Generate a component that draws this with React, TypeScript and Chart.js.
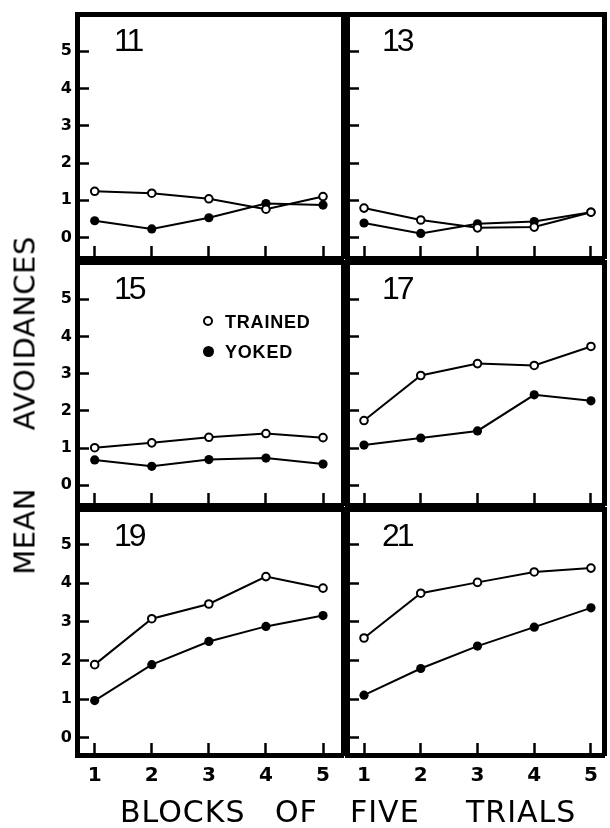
import React, { useEffect, useRef } from "react";
import { Chart, registerables } from "chart.js";

Chart.register(...registerables);

// ---------- data ----------
const blocks = [1, 2, 3, 4, 5];
const yTickValues = [0, 1, 2, 3, 4, 5];
const panelLabels = ["11", "13", "15", "17", "19", "21"];
const seriesNames = ["TRAINED", "YOKED"];
const xTitle = "BLOCKS OF FIVE TRIALS";
const yTitle = "MEAN AVOIDANCES";

const trained11 = [1.24, 1.19, 1.04, 0.76, 1.1];
const yoked11 = [0.45, 0.23, 0.53, 0.91, 0.87];
const trained13 = [0.79, 0.47, 0.26, 0.28, 0.68];
const yoked13 = [0.39, 0.11, 0.37, 0.43, 0.68];
const trained15 = [1.01, 1.14, 1.29, 1.39, 1.28];
const yoked15 = [0.68, 0.51, 0.69, 0.73, 0.57];
const trained17 = [1.74, 2.95, 3.27, 3.22, 3.73];
const yoked17 = [1.08, 1.27, 1.46, 2.43, 2.27];
const trained19 = [1.89, 3.08, 3.46, 4.17, 3.87];
const yoked19 = [0.96, 1.89, 2.49, 2.88, 3.16];
const trained21 = [2.58, 3.74, 4.02, 4.29, 4.39];
const yoked21 = [1.1, 1.79, 2.37, 2.86, 3.36];

const trainedSeries = [trained11, trained13, trained15, trained17, trained19, trained21];
const yokedSeries = [yoked11, yoked13, yoked15, yoked17, yoked19, yoked21];

// ---------- layout (page pixels) ----------
const COLS = [
  { left: 77, right: 345, xmin: 0.69, xmax: 5.35 },
  { left: 345, right: 606, xmin: 0.7, xmax: 5.23 },
];
const ROWS = [
  { top: 12, bottom: 260, ymin: -0.55, ymax: 6.0 },
  { top: 260, bottom: 507, ymin: -0.53, ymax: 6.0 },
  { top: 507, bottom: 755, ymin: -0.45, ymax: 5.92 },
];
const PAD = 4;
const FRAME_W = 5;
const X_AXIS_H = 42;
const X_TITLE_WORD_LEFTS = [120, 275, 350, 466];

function geom(col: number, row: number) {
  const c = COLS[col];
  const r = ROWS[row];
  const canvasLeft = col === 0 ? 0 : c.left - PAD;
  const padLeft = col === 0 ? 0 : PAD;
  const yAxisW = col === 0 ? c.left : 0;
  const w = c.right + PAD - canvasLeft;
  const canvasTop = r.top - PAD;
  const showX = row === 2;
  const xAxisH = showX ? X_AXIS_H : 0;
  const padBottom = showX ? 0 : PAD;
  const h = PAD + (r.bottom - r.top) + xAxisH + padBottom;
  return { c, r, canvasLeft, canvasTop, padLeft, yAxisW, w, h, showX, xAxisH, padBottom, showY: col === 0 };
}

function Panel({ idx }: { idx: number }) {
  const ref = useRef<HTMLCanvasElement | null>(null);
  const col = idx % 2;
  const row = Math.floor(idx / 2);
  const g = geom(col, row);

  useEffect(() => {
    const trained = trainedSeries[idx];
    const yoked = yokedSeries[idx];
    const zeroPad = (s: any) => {
      s.paddingLeft = 0;
      s.paddingRight = 0;
      s.paddingTop = 0;
      s.paddingBottom = 0;
    };
    const frameAxis = (position: string, horizontal: boolean) => ({
      type: "linear" as const,
      position,
      display: true,
      afterFit: (s: any) => {
        if (horizontal) s.height = 0;
        else s.width = 0;
        zeroPad(s);
      },
      grid: { display: true, drawOnChartArea: false, drawTicks: false },
      border: { display: true, width: FRAME_W, color: "#000" },
      ticks: { display: false },
    });
    const chart = new Chart(ref.current as HTMLCanvasElement, {
      type: "line",
      data: {
        datasets: [
          {
            label: seriesNames[0],
            data: blocks.map((b, i) => ({ x: b, y: trained[i] })),
            borderColor: "#000",
            borderWidth: 2,
            tension: 0,
            fill: false,
            pointRadius: 3.8,
            pointBorderWidth: 2,
            pointBackgroundColor: "#fff",
            pointBorderColor: "#000",
          },
          {
            label: seriesNames[1],
            data: blocks.map((b, i) => ({ x: b, y: yoked[i] })),
            borderColor: "#000",
            borderWidth: 2,
            tension: 0,
            fill: false,
            pointRadius: 4.6,
            pointBorderWidth: 0,
            pointBackgroundColor: "#000",
            pointBorderColor: "#000",
          },
        ],
      },
      options: {
        responsive: false,
        animation: false,
        devicePixelRatio: 1,
        layout: { padding: { left: g.padLeft, right: PAD, top: PAD, bottom: g.padBottom } },
        plugins: { legend: { display: false }, tooltip: { enabled: false } },
        scales: {
          x: {
            type: "linear",
            position: "bottom",
            min: g.c.xmin,
            max: g.c.xmax,
            afterBuildTicks: (s: any) => {
              s.ticks = blocks.map((v) => ({ value: v }));
            },
            afterFit: (s: any) => {
              s.height = g.xAxisH;
              zeroPad(s);
            },
            grid: { drawOnChartArea: false, drawTicks: true, tickLength: -12, tickWidth: 2.5, tickColor: "#000" },
            border: { display: true, width: FRAME_W, color: "#000" },
            ticks: {
              display: g.showX,
              autoSkip: false,
              maxRotation: 0,
              color: "#000",
              padding: 21,
              font: { family: "DejaVu Sans", size: 20, weight: "bold" },
              callback: (v: any) => String(v),
            },
          },
          y: {
            type: "linear",
            position: "left",
            min: g.r.ymin,
            max: g.r.ymax,
            afterBuildTicks: (s: any) => {
              s.ticks = yTickValues.map((v) => ({ value: v }));
            },
            afterFit: (s: any) => {
              s.width = g.yAxisW;
              zeroPad(s);
            },
            grid: { drawOnChartArea: false, drawTicks: true, tickLength: -12, tickWidth: 2.5, tickColor: "#000" },
            border: { display: true, width: FRAME_W, color: "#000" },
            ticks: {
              display: g.showY,
              autoSkip: false,
              color: "#000",
              padding: 17,
              font: { family: "DejaVu Sans", size: 16, weight: "bold" },
              callback: (v: any) => String(v),
            },
          },
          x2: frameAxis("top", true),
          y2: frameAxis("right", false),
        } as any,
      },
    });
    return () => chart.destroy();
  }, [idx]);

  return (
    <canvas
      ref={ref}
      width={g.w}
      height={g.h}
      style={{ position: "absolute", left: g.canvasLeft, top: g.canvasTop, width: g.w, height: g.h }}
    />
  );
}

const labelFont = "'Liberation Sans', Arial, sans-serif";

export default function App() {
  const numberPos = [0, 1, 2, 3, 4, 5].map((i) => {
    const col = i % 2;
    const row = Math.floor(i / 2);
    return { left: COLS[col].left + 37, capTop: ROWS[row].top + 16 };
  });
  const numSize = 32;
  const legSize = 18;
  const words = xTitle.split(" ");
  return (
    <div
      style={{
        position: "absolute",
        left: 0,
        top: 0,
        width: 610,
        height: 828,
        background: "#fff",
        overflow: "hidden",
      }}
    >
      {[0, 1, 2, 3, 4, 5].map((i) => (
        <Panel key={i} idx={i} />
      ))}
      {panelLabels.map((t, i) => (
        <div
          key={"n" + t}
          style={{
            position: "absolute",
            left: numberPos[i].left,
            top: numberPos[i].capTop - 0.13 * numSize,
            fontFamily: labelFont,
            fontSize: numSize,
            lineHeight: numSize + "px",
            letterSpacing: "-3px",
            color: "#000",
            whiteSpace: "nowrap",
          }}
        >
          {t}
        </div>
      ))}
      {/* legend in panel 15 */}
      {seriesNames.map((s, i) => (
        <React.Fragment key={s}>
          <div
            style={{
              position: "absolute",
              left: 203,
              top: 321 + i * 30 - (i === 0 ? 5 : 5.5),
              width: i === 0 ? 10 : 11,
              height: i === 0 ? 10 : 11,
              borderRadius: "50%",
              boxSizing: "border-box",
              border: i === 0 ? "2px solid #000" : "none",
              background: i === 0 ? "#fff" : "#000",
            }}
          />
          <div
            style={{
              position: "absolute",
              left: 225,
              top: 321.5 + i * 30 - 0.49 * legSize,
              fontFamily: labelFont,
              fontWeight: "bold",
              fontSize: legSize,
              lineHeight: legSize + "px",
              letterSpacing: "0.8px",
              color: "#000",
              whiteSpace: "nowrap",
            }}
          >
            {s}
          </div>
        </React.Fragment>
      ))}
      {/* x title */}
      {words.map((w, i) => (
        <div
          key={"w" + i}
          style={{
            position: "absolute",
            left: X_TITLE_WORD_LEFTS[i],
            top: 796.5,
            fontFamily: "'DejaVu Sans', sans-serif",
            fontSize: 30,
            lineHeight: "30px",
            letterSpacing: "1px",
            color: "#000",
            whiteSpace: "pre",
          }}
        >
          {w}
        </div>
      ))}
      {/* y title */}
      <div
        style={{
          position: "absolute",
          left: 24.5 - 200,
          top: 405 - 14.5,
          width: 400,
          height: 29,
          textAlign: "center",
          transform: "rotate(-90deg)",
          fontFamily: "'DejaVu Sans', sans-serif",
          fontSize: 29,
          lineHeight: "29px",
          letterSpacing: "0.5px",
          wordSpacing: "48px",
          color: "#000",
          whiteSpace: "pre",
        }}
      >
        {yTitle}
      </div>
    </div>
  );
}
